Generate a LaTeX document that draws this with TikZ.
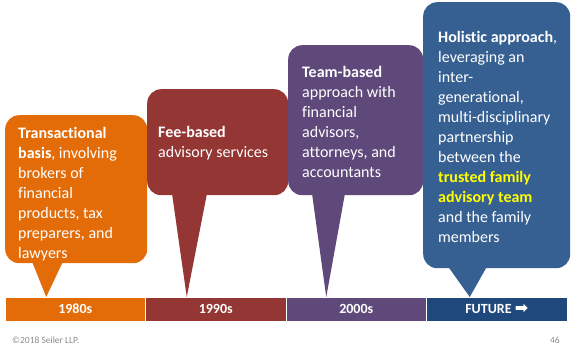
\documentclass[tikz,border=0pt]{standalone}
\usepackage{fontspec}
\setmainfont{Carlito}[Ligatures=NoCommon]
\newfontfamily\arrowfont{DejaVu Sans}
\usetikzlibrary{positioning}
\definecolor{era_80}  {HTML} {E36C09}
\definecolor{era_90}  {HTML} {943634}
\definecolor{era_00}  {HTML} {5F497A}
\definecolor{era_fut} {HTML} {366092}
\definecolor{bar_fut} {HTML} {1F497D}
\definecolor{hilite}  {HTML} {FFFF00}
\begin{document}
\begin{tikzpicture}[x=1pt,y=-1pt,
  bubble/.style={rounded corners=14pt,anchor=north west,inner sep=0pt},
  blurb/.style={text=white,align=left,anchor=north west,inner sep=0pt,font=\fontsize{16}{20}\selectfont},
  era/.style={minimum width=140.5pt,minimum height=24pt,inner sep=0pt,outer sep=0pt,draw=white,line width=0.8pt,text=white,font=\fontsize{14}{16}\selectfont\bfseries},
  foot/.style={text=gray!90,inner sep=0pt,font=\fontsize{9.5}{11}\selectfont}]
\useasboundingbox (0,0) rectangle (574,346);

% timeline
\node[era,fill=era_80,anchor=north west] (s80) at (5,297) {1980s};
\node[era,fill=era_90,right=0pt of s80] (s90) {1990s};
\node[era,fill=era_00,right=0pt of s90] (s00) {2000s};
\node[era,fill=bar_fut,right=0pt of s00] (sfut) {FUTURE {\arrowfont\fontsize{16}{16}\selectfont ➡}};

% speech bubbles
\node[bubble,fill=era_80,minimum width=142pt,minimum height=148pt] (b80) at (5,115) {};
\node[bubble,fill=era_90,minimum width=141pt,minimum height=106pt] (b90) at (147,89) {};
\node[bubble,fill=era_00,minimum width=135pt,minimum height=150pt] (b00) at (288,45) {};
\node[bubble,fill=era_fut,minimum width=147pt,minimum height=266pt] (bfut) at (423,2) {};

% pointers down to the bar
\fill[era_80] ([xshift=27pt,yshift=2pt]b80.south west) -- ([xshift=58pt,yshift=2pt]b80.south west) -- ([xshift=-29pt]s80.north) -- cycle;
\fill[era_90] ([xshift=25pt,yshift=2pt]b90.south west) -- ([xshift=60pt,yshift=2pt]b90.south west) -- ([xshift=-29pt]s90.north) -- cycle;
\fill[era_00] ([xshift=24pt,yshift=2pt]b00.south west) -- ([xshift=57pt,yshift=2pt]b00.south west) -- ([xshift=-30pt]s00.north) -- cycle;
\fill[era_fut] ([xshift=25pt,yshift=2pt]bfut.south west) -- ([xshift=64pt,yshift=2pt]bfut.south west) -- ([xshift=-27pt]sfut.north) -- cycle;

% bubble texts (strut on the first line, so the top sits 14pt above its baseline)
\node[blurb] (t80) at ([xshift=13pt,yshift=-9.5pt]b80.north west)
  {\strut\textbf{Transactional}\\\textbf{basis}, involving\\brokers of\\financial\\products, tax\\preparers, and\\lawyers};
\node[blurb] (t90) at ([xshift=11pt,yshift=-34pt]b90.north west)
  {\strut\textbf{Fee-based}\\advisory services};
\node[blurb] (t00) at ([xshift=14pt,yshift=-18pt]b00.north west)
  {\strut\textbf{Team-based}\\approach with\\financial\\advisors,\\attorneys, and\\accountants};
\node[blurb] (tfut) at ([xshift=15pt,yshift=-26pt]bfut.north west)
  {\strut\textbf{Holistic approach},\\leveraging an\\inter-\\generational,\\multi-disciplinary\\partnership\\between the\\
   \textcolor{hilite}{\textbf{trusted family}}\\\textcolor{hilite}{\textbf{advisory team}}\\and the family\\members};

% footer
\node[foot,anchor=base west] (copy) at (12,343) {\textcopyright2018 Seiler LLP.};
\node[foot,anchor=base east] (page) at (560,343) {46};
\end{tikzpicture}
\end{document}
